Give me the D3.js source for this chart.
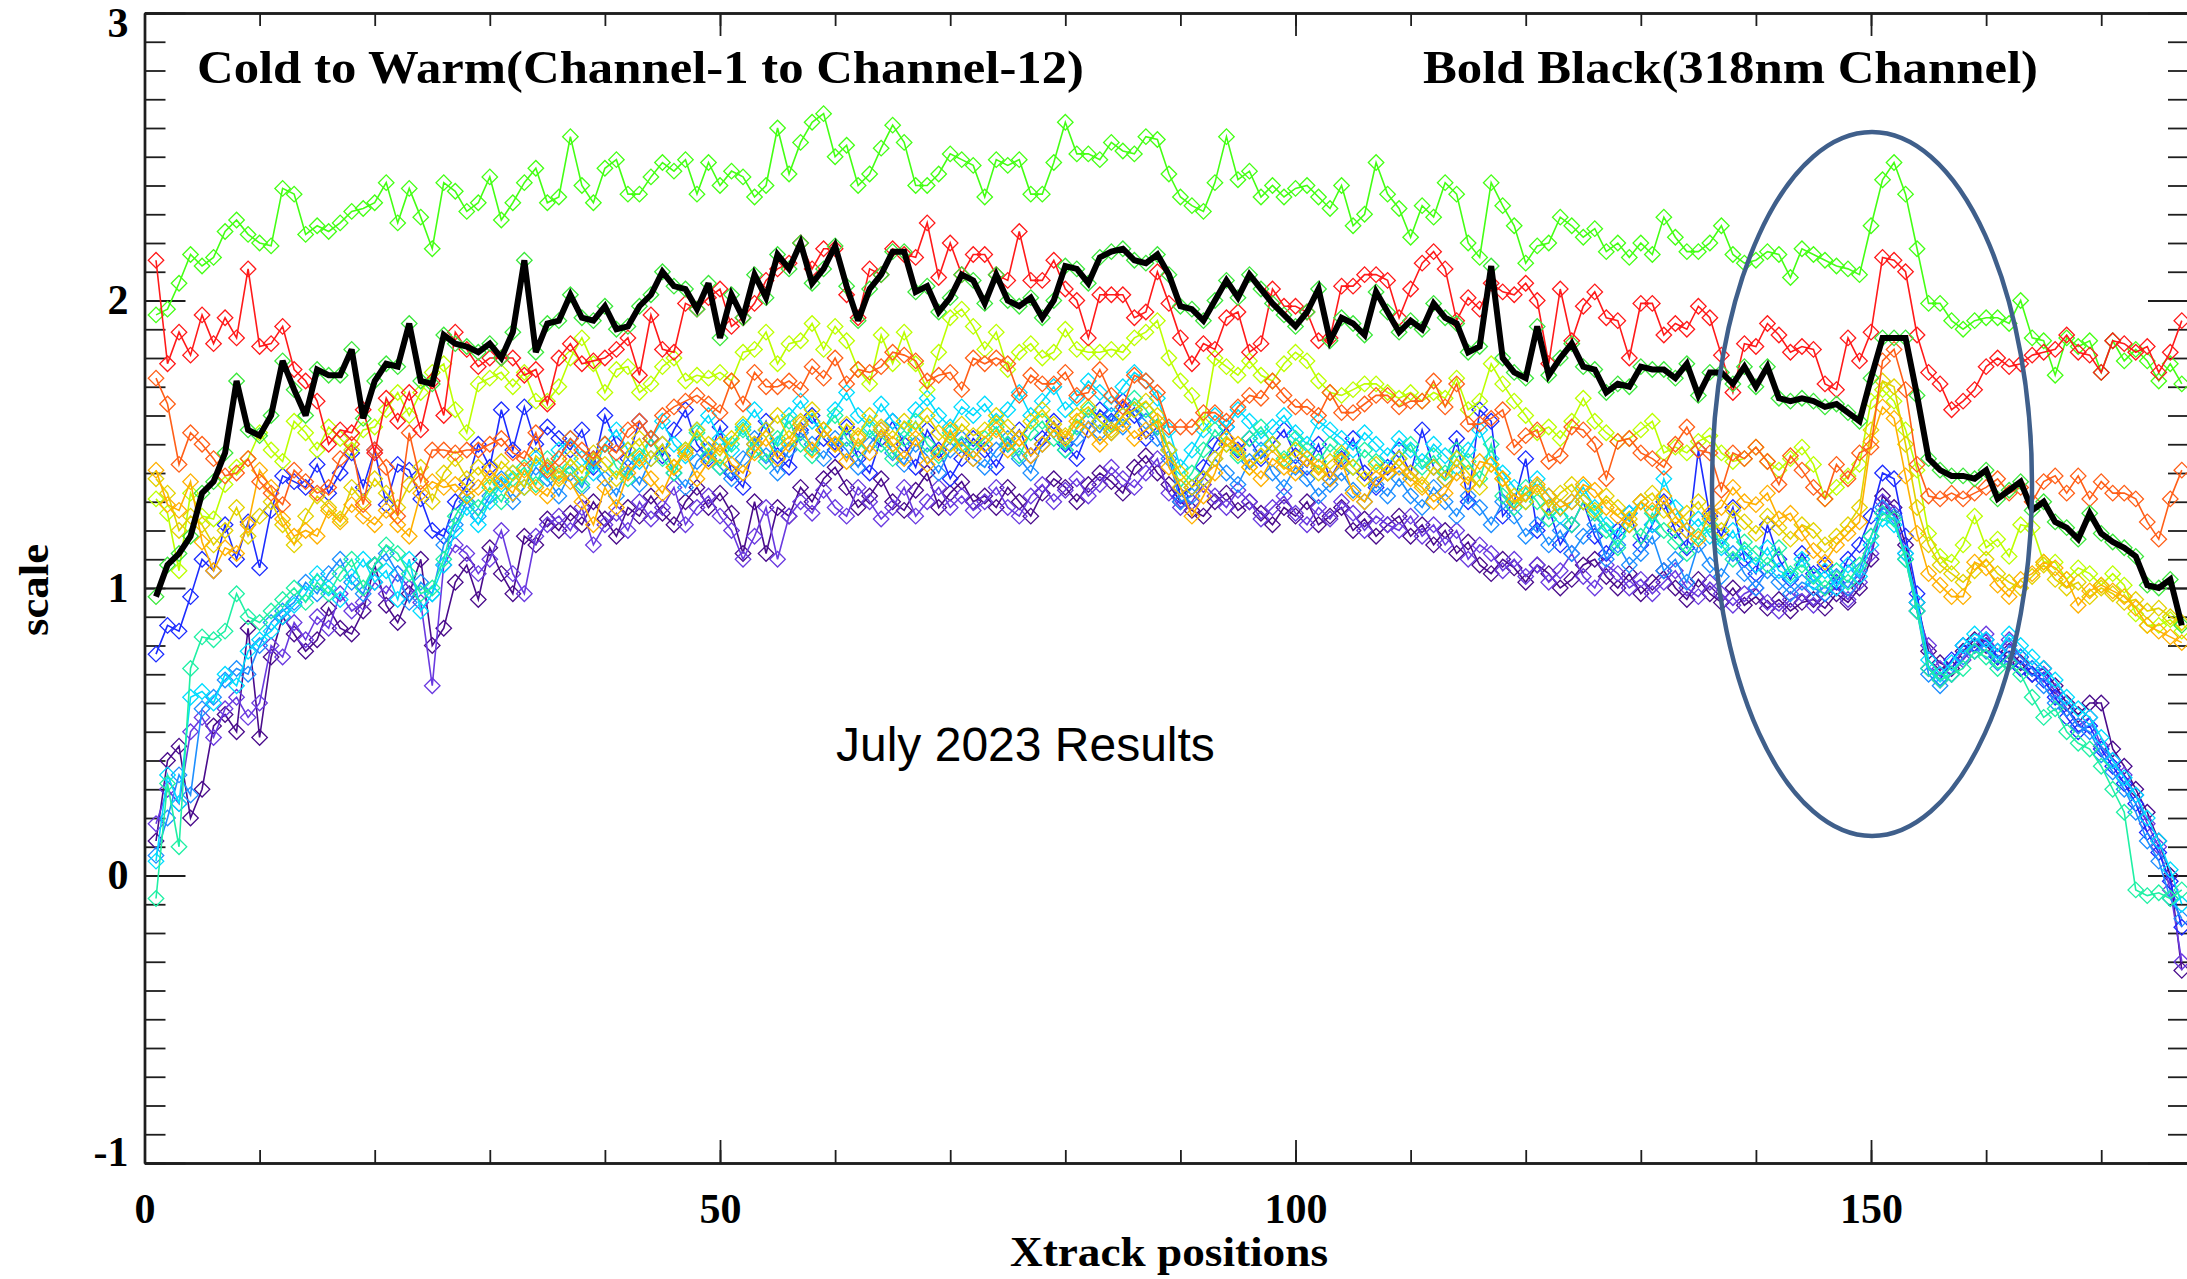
<!DOCTYPE html>
<html>
<head>
<meta charset="utf-8">
<script src="https://cdn.jsdelivr.net/npm/d3@7"></script>
<style>
  html, body { margin: 0; padding: 0; background: #ffffff; }
  svg { display: block; }
</style>
</head>
<body>
<svg id="chart" width="2187" height="1279"></svg>
<script>
// Cross-track positions 1..177
const xtrack = d3.range(1, 178);

// Scale factor per channel, cold (channel 1) to warm (channel 12)
const ch01 = [
  0.12,0.40,0.45,0.20,0.30,0.52,0.56,0.50,0.86,0.48,
  0.76,0.90,0.84,0.78,0.82,0.93,0.86,0.84,0.92,1.08,
  0.94,0.88,0.98,1.10,0.80,0.86,1.02,1.08,0.96,1.14,
  1.05,0.98,1.18,1.15,1.24,1.20,1.26,1.22,1.30,1.24,
  1.18,1.28,1.25,1.32,1.26,1.22,1.30,1.35,1.28,1.33,
  1.26,1.12,1.30,1.12,1.28,1.25,1.35,1.30,1.38,1.42,
  1.35,1.28,1.32,1.38,1.30,1.27,1.34,1.40,1.28,1.33,
  1.37,1.30,1.32,1.28,1.35,1.30,1.25,1.33,1.38,1.35,
  1.30,1.36,1.40,1.37,1.33,1.42,1.46,1.40,1.36,1.30,
  1.27,1.25,1.30,1.33,1.27,1.30,1.26,1.22,1.28,1.25,
  1.30,1.22,1.25,1.28,1.20,1.24,1.18,1.22,1.25,1.18,
  1.22,1.15,1.20,1.12,1.16,1.08,1.05,1.10,1.07,1.02,
  1.08,1.05,1.00,1.03,1.08,1.10,1.04,1.00,1.05,0.98,
  1.02,1.06,1.00,0.96,1.03,0.98,0.95,1.00,0.94,0.97,
  0.93,0.96,0.92,0.95,0.96,0.93,0.98,0.95,1.00,1.10,
  1.32,1.28,1.15,0.95,0.78,0.74,0.72,0.78,0.82,0.80,
  0.76,0.78,0.74,0.70,0.72,0.66,0.60,0.56,0.60,0.60,
  0.44,0.38,0.30,0.22,0.12,0.00,-0.33
];
const ch02 = [
  0.18,0.30,0.25,0.50,0.55,0.48,0.58,0.62,0.55,0.60,
  0.80,0.76,0.88,0.82,0.90,0.86,0.98,0.92,0.95,1.02,
  0.98,1.05,1.00,0.95,0.66,1.08,1.15,1.12,1.05,1.10,
  1.20,1.05,0.98,1.18,1.22,1.25,1.20,1.28,1.15,1.22,
  1.26,1.20,1.30,1.24,1.28,1.35,1.22,1.28,1.32,1.25,
  1.20,1.10,1.18,1.28,1.10,1.25,1.30,1.26,1.34,1.28,
  1.25,1.35,1.30,1.24,1.28,1.35,1.25,1.30,1.35,1.28,
  1.32,1.27,1.30,1.35,1.28,1.25,1.32,1.36,1.30,1.34,
  1.38,1.32,1.36,1.42,1.38,1.35,1.40,1.45,1.33,1.28,
  1.30,1.36,1.32,1.28,1.34,1.30,1.24,1.28,1.32,1.26,
  1.22,1.28,1.24,1.30,1.26,1.20,1.25,1.22,1.20,1.25,
  1.18,1.22,1.15,1.20,1.10,1.15,1.12,1.06,1.10,1.04,
  1.08,1.02,1.06,1.12,1.04,1.00,1.08,1.05,1.00,1.03,
  0.98,1.02,1.06,1.00,0.97,1.02,0.98,0.94,0.98,1.00,
  0.95,0.92,0.96,0.98,0.94,0.98,1.00,0.96,1.02,1.12,
  1.30,1.26,1.12,0.92,0.80,0.72,0.70,0.75,0.80,0.84,
  0.78,0.82,0.76,0.72,0.70,0.64,0.58,0.52,0.55,0.45,
  0.40,0.35,0.28,0.18,0.10,-0.05,-0.30
];
const ch03 = [
  0.77,0.87,0.85,0.97,1.10,1.06,1.22,1.10,1.23,1.07,
  1.27,1.39,1.37,1.35,1.43,1.33,1.40,1.47,1.35,1.48,
  1.29,1.43,1.41,1.31,1.20,1.18,1.30,1.36,1.50,1.42,
  1.62,1.48,1.63,1.50,1.56,1.52,1.48,1.55,1.42,1.60,
  1.50,1.45,1.58,1.52,1.46,1.55,1.62,1.50,1.45,1.56,
  1.40,1.35,1.50,1.58,1.46,1.42,1.55,1.60,1.52,1.48,
  1.56,1.45,1.40,1.52,1.58,1.50,1.42,1.55,1.48,1.38,
  1.45,1.52,1.48,1.42,1.50,1.55,1.46,1.52,1.58,1.50,
  1.45,1.55,1.62,1.58,1.65,1.60,1.52,1.56,1.48,1.32,
  1.35,1.42,1.50,1.56,1.48,1.52,1.45,1.50,1.55,1.46,
  1.42,1.50,1.38,1.45,1.52,1.40,1.35,1.42,1.48,1.40,
  1.55,1.42,1.38,1.52,1.30,1.62,1.58,1.25,1.30,1.45,
  1.20,1.28,1.15,1.22,1.30,1.18,1.12,1.20,1.26,1.15,
  1.22,1.30,1.20,1.14,1.48,1.25,1.18,1.28,1.10,1.05,
  1.22,1.10,1.03,1.12,1.05,1.08,1.02,1.10,1.15,1.25,
  1.40,1.38,1.18,0.98,0.72,0.68,0.75,0.80,0.78,0.82,
  0.76,0.74,0.72,0.70,0.68,0.62,0.55,0.50,0.52,0.44,
  0.38,0.32,0.25,0.15,0.08,-0.02,-0.18
];
const ch04 = [
  0.07,0.20,0.35,0.28,0.58,0.62,0.68,0.72,0.70,0.80,
  0.88,0.92,0.95,1.02,0.98,1.05,1.10,1.02,0.98,1.08,
  1.12,1.05,0.95,1.02,0.98,1.15,1.22,1.30,1.25,1.32,
  1.38,1.30,1.35,1.42,1.38,1.32,1.40,1.35,1.44,1.38,
  1.32,1.42,1.36,1.45,1.50,1.40,1.35,1.44,1.48,1.42,
  1.38,1.45,1.52,1.46,1.40,1.48,1.54,1.50,1.45,1.52,
  1.48,1.42,1.50,1.55,1.47,1.43,1.50,1.46,1.40,1.48,
  1.52,1.45,1.42,1.48,1.52,1.45,1.40,1.50,1.55,1.48,
  1.52,1.58,1.54,1.60,1.56,1.62,1.58,1.52,1.45,1.30,
  1.32,1.38,1.45,1.40,1.36,1.44,1.48,1.40,1.35,1.42,
  1.38,1.32,1.36,1.40,1.34,1.30,1.36,1.32,1.38,1.32,
  1.28,1.35,1.30,1.25,1.32,1.28,1.22,1.30,1.25,1.18,
  1.22,1.15,1.20,1.12,1.18,1.22,1.10,1.15,1.08,1.12,
  1.18,1.06,1.10,1.02,1.15,1.08,1.04,1.12,1.05,1.00,
  1.06,1.02,0.98,1.02,1.00,0.98,1.04,1.00,1.06,1.18,
  1.28,1.25,1.10,0.92,0.70,0.66,0.70,0.76,0.80,0.78,
  0.74,0.80,0.76,0.72,0.66,0.60,0.58,0.52,0.50,0.42,
  0.36,0.30,0.22,0.12,0.05,-0.08,-0.15
];
const ch05 = [
  0.05,0.35,0.25,0.62,0.64,0.60,0.70,0.66,0.78,0.82,
  0.85,0.90,0.94,0.98,1.05,1.00,0.96,1.04,1.10,1.02,
  1.06,0.96,1.10,0.92,0.98,1.08,1.20,1.28,1.22,1.30,
  1.36,1.40,1.35,1.45,1.40,1.48,1.52,1.45,1.40,1.50,
  1.55,1.48,1.44,1.52,1.58,1.50,1.46,1.55,1.60,1.52,
  1.48,1.56,1.62,1.55,1.50,1.60,1.65,1.58,1.55,1.62,
  1.68,1.60,1.56,1.64,1.58,1.55,1.62,1.66,1.60,1.56,
  1.63,1.60,1.64,1.58,1.62,1.68,1.60,1.65,1.70,1.62,
  1.66,1.72,1.68,1.64,1.70,1.75,1.72,1.66,1.55,1.42,
  1.48,1.55,1.60,1.56,1.62,1.58,1.52,1.56,1.60,1.54,
  1.50,1.58,1.55,1.52,1.48,1.54,1.50,1.46,1.52,1.48,
  1.44,1.50,1.46,1.42,1.48,1.55,1.45,1.40,1.35,1.30,
  1.38,1.32,1.25,1.30,1.35,1.28,1.22,1.18,1.26,1.30,
  1.22,1.38,1.28,1.20,1.24,1.18,1.14,1.20,1.12,1.08,
  1.14,1.06,1.04,1.10,1.02,1.06,1.00,1.08,1.04,1.15,
  1.24,1.22,1.12,0.95,0.75,0.70,0.74,0.80,0.84,0.82,
  0.78,0.84,0.80,0.76,0.72,0.68,0.62,0.58,0.55,0.48,
  0.40,0.34,0.28,0.20,0.12,0.02,-0.10
];
const ch06 = [
  -0.08,0.32,0.10,0.72,0.83,0.82,0.85,0.98,0.90,0.88,
  0.92,0.96,1.00,0.95,1.02,0.98,1.05,1.10,1.00,1.08,
  1.15,1.12,1.05,0.98,1.00,1.10,1.25,1.32,1.28,1.35,
  1.30,1.38,1.42,1.36,1.45,1.40,1.42,1.36,1.45,1.50,
  1.42,1.38,1.46,1.52,1.45,1.40,1.48,1.54,1.46,1.42,
  1.50,1.55,1.48,1.44,1.52,1.58,1.50,1.46,1.55,1.60,
  1.52,1.48,1.55,1.50,1.45,1.52,1.58,1.50,1.46,1.54,
  1.50,1.48,1.52,1.56,1.50,1.46,1.54,1.58,1.52,1.48,
  1.56,1.62,1.58,1.54,1.60,1.66,1.62,1.56,1.48,1.35,
  1.40,1.48,1.55,1.50,1.46,1.52,1.56,1.50,1.45,1.52,
  1.48,1.44,1.50,1.46,1.42,1.48,1.44,1.40,1.45,1.50,
  1.42,1.46,1.40,1.48,1.44,1.38,1.50,1.32,1.28,1.35,
  1.30,1.24,1.28,1.22,1.30,1.26,1.20,1.14,1.22,1.18,
  1.26,1.20,1.16,1.12,1.18,1.22,1.15,1.10,1.16,1.12,
  1.08,1.14,1.05,1.08,1.04,1.00,1.06,1.02,1.08,1.18,
  1.26,1.24,1.10,0.92,0.72,0.68,0.70,0.72,0.78,0.76,
  0.72,0.74,0.70,0.62,0.55,0.58,0.50,0.46,0.44,0.38,
  0.30,0.22,-0.05,-0.07,-0.06,-0.08,-0.05
];
const ch07 = [
  1.95,1.97,2.06,2.16,2.12,2.15,2.24,2.28,2.23,2.20,
  2.19,2.39,2.37,2.23,2.26,2.24,2.27,2.31,2.32,2.34,
  2.41,2.27,2.39,2.29,2.18,2.41,2.38,2.31,2.34,2.43,
  2.28,2.34,2.41,2.46,2.34,2.36,2.57,2.40,2.34,2.46,
  2.49,2.37,2.37,2.43,2.48,2.45,2.49,2.37,2.48,2.40,
  2.45,2.43,2.36,2.40,2.60,2.44,2.55,2.62,2.65,2.50,
  2.54,2.40,2.44,2.53,2.61,2.55,2.40,2.40,2.44,2.51,
  2.49,2.47,2.36,2.49,2.47,2.49,2.37,2.37,2.48,2.62,
  2.51,2.51,2.49,2.55,2.52,2.51,2.57,2.56,2.44,2.36,
  2.33,2.31,2.41,2.57,2.42,2.45,2.36,2.40,2.36,2.39,
  2.40,2.36,2.32,2.40,2.26,2.30,2.48,2.37,2.32,2.22,
  2.33,2.29,2.41,2.37,2.20,2.15,2.41,2.33,2.26,2.13,
  2.19,2.20,2.29,2.26,2.22,2.25,2.17,2.20,2.15,2.20,
  2.16,2.29,2.22,2.17,2.17,2.20,2.26,2.16,2.13,2.14,
  2.17,2.16,2.08,2.18,2.16,2.14,2.12,2.11,2.09,2.26,
  2.42,2.48,2.37,2.18,1.99,1.99,1.93,1.90,1.93,1.94,
  1.94,1.92,2.00,1.87,1.86,1.74,1.87,1.84,1.86,1.75,
  1.86,1.79,1.83,1.79,1.72,1.78,1.71
];
const ch08 = [
  1.31,1.26,1.06,1.33,1.25,1.24,1.36,1.42,1.45,1.54,
  1.48,1.44,1.58,1.54,1.48,1.56,1.52,1.48,1.55,1.56,
  1.62,1.68,1.60,1.68,1.75,1.78,1.62,1.54,1.71,1.73,
  1.75,1.70,1.75,1.65,1.65,1.70,1.80,1.87,1.78,1.68,
  1.76,1.77,1.68,1.71,1.77,1.80,1.72,1.74,1.73,1.75,
  1.72,1.82,1.83,1.89,1.78,1.85,1.86,1.92,1.83,1.91,
  1.86,1.76,1.71,1.88,1.78,1.89,1.78,1.69,1.82,1.94,
  1.97,1.91,1.83,1.89,1.76,1.82,1.85,1.80,1.82,1.90,
  1.83,1.82,1.82,1.83,1.82,1.87,1.89,1.93,1.80,1.72,
  1.67,1.57,1.80,1.77,1.74,1.79,1.74,1.72,1.78,1.82,
  1.79,1.72,1.68,1.67,1.69,1.71,1.71,1.68,1.66,1.68,
  1.65,1.68,1.66,1.73,1.62,1.65,1.78,1.71,1.65,1.60,
  1.54,1.56,1.52,1.58,1.66,1.58,1.54,1.51,1.52,1.55,
  1.58,1.47,1.49,1.47,1.51,1.53,1.47,1.44,1.45,1.49,
  1.44,1.41,1.45,1.49,1.43,1.31,1.35,1.39,1.43,1.65,
  1.69,1.65,1.55,1.41,1.19,1.11,1.09,1.15,1.25,1.14,
  1.17,1.11,1.22,1.21,1.09,1.09,1.03,1.07,1.05,1.01,
  1.05,1.01,0.91,0.87,0.87,0.89,0.85
];
const ch09 = [
  1.38,1.33,1.20,1.25,1.22,1.15,1.20,1.28,1.18,1.25,
  1.30,1.22,1.15,1.25,1.32,1.28,1.24,1.35,1.30,1.38,
  1.33,1.28,1.36,1.42,1.30,1.40,1.45,1.38,1.42,1.36,
  1.44,1.40,1.35,1.46,1.42,1.38,1.45,1.40,1.47,1.43,
  1.38,1.48,1.52,1.45,1.50,1.42,1.48,1.55,1.50,1.46,
  1.52,1.57,1.50,1.55,1.60,1.52,1.58,1.62,1.55,1.50,
  1.57,1.53,1.60,1.56,1.52,1.58,1.55,1.60,1.54,1.50,
  1.57,1.53,1.55,1.60,1.56,1.52,1.58,1.62,1.57,1.53,
  1.60,1.63,1.58,1.55,1.60,1.62,1.65,1.60,1.48,1.40,
  1.35,1.38,1.45,1.50,1.47,1.42,1.46,1.50,1.44,1.48,
  1.45,1.40,1.44,1.47,1.42,1.38,1.43,1.40,1.45,1.40,
  1.36,1.42,1.38,1.45,1.40,1.35,1.43,1.38,1.32,1.30,
  1.35,1.28,1.33,1.36,1.30,1.27,1.32,1.28,1.24,1.30,
  1.33,1.27,1.22,1.26,1.30,1.24,1.20,1.27,1.23,1.19,
  1.25,1.21,1.17,1.22,1.20,1.15,1.18,1.22,1.28,1.55,
  1.72,1.70,1.50,1.28,1.15,1.08,1.05,1.02,1.06,1.10,
  1.05,1.02,1.00,1.04,1.08,1.03,1.00,1.02,0.97,1.00,
  0.98,0.95,0.96,0.92,0.93,0.90,0.88
];
const ch10 = [
  1.41,1.29,1.27,1.37,1.16,1.06,1.14,1.12,1.22,1.41,
  1.35,1.24,1.18,1.20,1.18,1.27,1.23,1.29,1.25,1.22,
  1.27,1.22,1.18,1.33,1.37,1.35,1.36,1.32,1.35,1.41,
  1.37,1.33,1.41,1.35,1.32,1.39,1.37,1.30,1.22,1.35,
  1.28,1.40,1.45,1.38,1.33,1.42,1.47,1.38,1.44,1.50,
  1.43,1.40,1.47,1.52,1.45,1.50,1.57,1.48,1.55,1.50,
  1.44,1.52,1.47,1.55,1.50,1.45,1.52,1.43,1.47,1.55,
  1.48,1.45,1.50,1.55,1.48,1.52,1.46,1.50,1.55,1.52,
  1.58,1.55,1.50,1.54,1.57,1.52,1.55,1.58,1.42,1.35,
  1.25,1.32,1.40,1.52,1.50,1.42,1.38,1.45,1.42,1.40,
  1.45,1.42,1.38,1.44,1.33,1.30,1.38,1.40,1.42,1.38,
  1.35,1.30,1.33,1.40,1.36,1.44,1.43,1.38,1.30,1.33,
  1.36,1.32,1.28,1.30,1.36,1.34,1.28,1.25,1.22,1.30,
  1.27,1.32,1.25,1.20,1.17,1.26,1.28,1.35,1.30,1.29,
  1.33,1.24,1.26,1.19,1.13,1.09,1.15,1.19,1.23,1.51,
  1.63,1.59,1.39,1.19,1.05,1.01,0.97,0.97,1.09,1.07,
  1.01,0.97,1.03,1.05,1.09,1.07,1.03,0.94,0.99,1.01,
  0.99,0.97,0.93,0.87,0.85,0.83,0.81
];
const ch11 = [
  1.73,1.64,1.43,1.54,1.50,1.45,1.39,1.40,1.45,1.37,
  1.33,1.29,1.41,1.37,1.33,1.35,1.45,1.50,1.29,1.48,
  1.42,1.25,1.54,1.37,1.48,1.48,1.47,1.48,1.48,1.50,
  1.52,1.47,1.45,1.54,1.41,1.45,1.52,1.48,1.45,1.50,
  1.47,1.55,1.58,1.52,1.60,1.63,1.65,1.67,1.64,1.61,
  1.72,1.64,1.75,1.70,1.70,1.72,1.69,1.77,1.73,1.80,
  1.71,1.76,1.75,1.77,1.82,1.81,1.79,1.72,1.74,1.75,
  1.69,1.80,1.78,1.80,1.78,1.67,1.74,1.71,1.71,1.75,
  1.67,1.68,1.76,1.67,1.63,1.74,1.72,1.68,1.56,1.56,
  1.56,1.61,1.61,1.58,1.63,1.67,1.66,1.72,1.67,1.63,
  1.63,1.60,1.68,1.61,1.61,1.64,1.67,1.67,1.63,1.65,
  1.65,1.72,1.63,1.71,1.57,1.57,1.59,1.62,1.49,1.53,
  1.55,1.44,1.46,1.56,1.55,1.50,1.38,1.51,1.52,1.47,
  1.45,1.42,1.50,1.56,1.48,1.47,1.34,1.47,1.45,1.49,
  1.44,1.36,1.46,1.41,1.35,1.31,1.43,1.38,1.47,1.49,
  1.79,1.83,1.69,1.43,1.32,1.31,1.33,1.31,1.33,1.35,
  1.38,1.33,1.35,1.30,1.37,1.39,1.33,1.39,1.31,1.37,
  1.33,1.33,1.31,1.23,1.17,1.31,1.41
];
const ch12 = [
  2.14,1.78,1.89,1.81,1.95,1.85,1.94,1.87,2.11,1.84,
  1.85,1.91,1.76,1.72,1.65,1.50,1.55,1.54,1.62,1.47,
  1.66,1.58,1.68,1.55,1.72,1.60,1.89,1.83,1.77,1.80,
  1.80,1.80,1.74,1.76,1.64,1.80,1.85,1.78,1.79,1.80,
  1.83,1.87,1.74,1.95,1.83,1.82,1.99,1.97,2.01,2.04,
  1.91,1.94,1.99,2.07,2.11,2.13,2.20,2.11,2.18,2.18,
  2.02,1.94,2.11,2.09,2.18,2.16,2.15,2.27,2.08,2.20,
  2.09,2.16,2.16,2.09,2.07,2.24,2.07,2.07,2.14,2.04,
  2.00,1.87,2.02,2.02,2.02,1.94,1.96,2.10,1.99,1.87,
  1.78,1.85,1.83,1.94,1.96,1.82,1.85,2.04,1.98,1.98,
  1.96,1.86,1.87,2.05,2.05,2.09,2.09,2.07,1.94,2.04,
  2.13,2.17,2.11,1.93,2.01,1.97,2.06,2.03,2.02,2.06,
  2.00,1.78,2.04,1.86,1.98,2.03,1.94,1.93,1.80,1.99,
  1.99,1.88,1.92,1.90,1.98,1.94,1.81,1.68,1.85,1.84,
  1.92,1.88,1.82,1.84,1.83,1.71,1.69,1.87,1.79,1.89,
  2.15,2.14,2.10,1.88,1.75,1.71,1.62,1.65,1.69,1.77,
  1.80,1.77,1.78,1.81,1.82,1.83,1.88,1.82,1.81,1.75,
  1.86,1.85,1.82,1.84,1.75,1.82,1.93
];
// 318 nm channel, drawn bold black
const ch318 = [
  0.97,1.08,1.12,1.18,1.33,1.37,1.47,1.72,1.55,1.53,
  1.60,1.79,1.69,1.60,1.76,1.74,1.74,1.83,1.59,1.72,
  1.78,1.77,1.92,1.72,1.71,1.88,1.85,1.84,1.82,1.85,
  1.80,1.89,2.14,1.82,1.92,1.93,2.02,1.94,1.93,1.98,
  1.90,1.91,1.98,2.02,2.10,2.05,2.04,1.97,2.06,1.87,
  2.02,1.94,2.09,2.01,2.16,2.11,2.20,2.06,2.11,2.19,
  2.05,1.93,2.04,2.09,2.17,2.17,2.03,2.05,1.96,2.01,
  2.09,2.07,1.99,2.09,2.00,1.98,2.01,1.94,2.00,2.12,
  2.11,2.06,2.15,2.17,2.18,2.14,2.13,2.16,2.09,1.98,
  1.97,1.93,2.00,2.07,2.01,2.09,2.04,1.99,1.95,1.91,
  1.96,2.04,1.86,1.94,1.92,1.88,2.03,1.96,1.89,1.93,
  1.90,1.99,1.94,1.92,1.82,1.84,2.12,1.80,1.75,1.73,
  1.91,1.74,1.80,1.85,1.77,1.76,1.68,1.71,1.70,1.77,
  1.76,1.76,1.73,1.78,1.67,1.75,1.75,1.71,1.77,1.70,
  1.77,1.66,1.65,1.66,1.65,1.63,1.64,1.61,1.58,1.73,
  1.87,1.87,1.87,1.67,1.45,1.41,1.39,1.39,1.38,1.41,
  1.31,1.34,1.37,1.27,1.30,1.23,1.21,1.17,1.26,1.19,
  1.16,1.14,1.11,1.01,1.00,1.03,0.87
];

// Rainbow colour table, channel 1 (cold) .. channel 12 (warm)
const channelColors = [
  "#4a0c8c", "#6a3ae0", "#1c2cff", "#1e8fff", "#00dcff", "#1ff0a4",
  "#44ff14", "#bcff00", "#e2d200", "#ffb000", "#ff5f18", "#ff1a1a"
];
const channels = [ch01, ch02, ch03, ch04, ch05, ch06, ch07, ch08, ch09, ch10, ch11, ch12];

// Axis ticks and labels
const xMinorTicks = [0, 10, 20, 30, 40, 50, 60, 70, 80, 90, 100, 110, 120, 130, 140, 150, 160, 170];
const xMajorTicks = [0, 50, 100, 150];
const yMajorTicks = [-1, 0, 1, 2, 3];
const yMinorTicks = d3.range(-10, 31).map(k => k / 10);

const titleLeft = "Cold to Warm(Channel-1 to Channel-12)";
const titleRight = "Bold Black(318nm Channel)";
const xTitle = "Xtrack positions";
const yTitle = "scale";
const note = "July 2023 Results";

channels.concat([ch318]).forEach((s, i) => {
  if (s.length !== xtrack.length) throw new Error("series " + i + " has " + s.length + " values");
});

const svg = d3.select("#chart");
const W = 2187, H = 1279;
svg.append("rect").attr("width", W).attr("height", H).attr("fill", "#ffffff");

const x = d3.scaleLinear().domain([0, 177.8]).range([144.5, 2191]);
const y = d3.scaleLinear().domain([-1, 3]).range([1163, 13]);

const serif = "'Liberation Serif', 'DejaVu Serif', serif";
const sans = "'Liberation Sans', Arial, sans-serif";
const plainInt = d => String(d);   // ASCII hyphen for negatives

// ---- axes ----
function styleAxis(g) {
  g.selectAll(".domain").attr("stroke", "#1e1e1e").attr("stroke-width", 2.4);
  g.selectAll(".tick line").attr("stroke", "#1e1e1e").attr("stroke-width", 1.8);
}
const axisFont = g => g.attr("font-family", serif).attr("font-size", 42).attr("font-weight", "bold")
  .selectAll("text").attr("fill", "#000");

// bottom
const gB = svg.append("g").attr("transform", `translate(0,${y(-1)})`);
gB.call(d3.axisBottom(x).tickValues(xMinorTicks).tickSize(-13).tickSizeOuter(0).tickFormat(""));
const gB2 = svg.append("g").attr("transform", `translate(0,${y(-1)})`);
gB2.call(d3.axisBottom(x).tickValues(xMajorTicks).tickSize(-23).tickSizeOuter(0).tickPadding(30).tickFormat(plainInt));
gB2.call(axisFont);
styleAxis(gB); styleAxis(gB2);

// top
const gT = svg.append("g").attr("transform", `translate(0,${y(3)})`);
gT.call(d3.axisTop(x).tickValues(xMinorTicks).tickSize(-13).tickSizeOuter(0).tickFormat(""));
const gT2 = svg.append("g").attr("transform", `translate(0,${y(3)})`);
gT2.call(d3.axisTop(x).tickValues(xMajorTicks).tickSize(-23).tickSizeOuter(0).tickFormat(""));
styleAxis(gT); styleAxis(gT2);

// left
const gL = svg.append("g").attr("transform", `translate(${x(0)},0)`);
gL.call(d3.axisLeft(y).tickValues(yMinorTicks).tickSize(-21).tickSizeOuter(0).tickFormat(""));
const gL2 = svg.append("g").attr("transform", `translate(${x(0)},0)`);
gL2.call(d3.axisLeft(y).tickValues(yMajorTicks).tickSize(-41).tickSizeOuter(0).tickPadding(16).tickFormat(plainInt));
gL2.call(axisFont);
// end labels sit just inside the frame
gL2.selectAll(".tick text").attr("dy", d => d === 3 ? "0.55em" : d === -1 ? "0.06em" : "0.32em");
styleAxis(gL); styleAxis(gL2);

// right
const gR = svg.append("g").attr("transform", `translate(${x(177.8) - 2},0)`);
gR.call(d3.axisRight(y).tickValues(yMinorTicks).tickSize(-21).tickSizeOuter(0).tickFormat(""));
const gR2 = svg.append("g").attr("transform", `translate(${x(177.8) - 2},0)`);
gR2.call(d3.axisRight(y).tickValues(yMajorTicks).tickSize(-41).tickSizeOuter(0).tickFormat(""));
styleAxis(gR); styleAxis(gR2);

// ---- series ----
const line = d3.line()
  .x((d, i) => x(xtrack[i]))
  .y(d => y(d));
const diamond = d3.symbol().type(d3.symbolSquare).size(120);

const plot = svg.append("g");

function drawMarkers(values, color) {
  plot.append("g")
    .selectAll("path")
    .data(values)
    .join("path")
    .attr("d", diamond)
    .attr("transform", (d, i) => `translate(${x(xtrack[i])},${y(d)}) rotate(45)`)
    .attr("fill", "none")
    .attr("stroke", color)
    .attr("stroke-width", 1.3);
}

channels.forEach((vals, c) => {
  const color = channelColors[c];
  plot.append("path")
    .datum(vals)
    .attr("d", line)
    .attr("fill", "none")
    .attr("stroke", color)
    .attr("stroke-width", 1.6)
    .attr("stroke-linejoin", "miter");
  drawMarkers(vals, color);
});

// 318 nm channel: green diamonds under a heavy black trace
drawMarkers(ch318, "#3be83b");
plot.append("path")
  .datum(ch318)
  .attr("d", line)
  .attr("fill", "none")
  .attr("stroke", "#000")
  .attr("stroke-width", 6)
  .attr("stroke-linejoin", "miter")
  .attr("stroke-miterlimit", 3);

// ---- annotations ----
svg.append("text")
  .attr("x", 197).attr("y", 83)
  .attr("font-family", serif).attr("font-weight", "bold").attr("font-size", 46)
  .attr("textLength", 887).attr("lengthAdjust", "spacingAndGlyphs")
  .text(titleLeft);

svg.append("text")
  .attr("x", 1423).attr("y", 83)
  .attr("font-family", serif).attr("font-weight", "bold").attr("font-size", 46)
  .attr("textLength", 615).attr("lengthAdjust", "spacingAndGlyphs")
  .text(titleRight);

svg.append("text")
  .attr("x", 1169).attr("y", 1266)
  .attr("text-anchor", "middle")
  .attr("font-family", serif).attr("font-weight", "bold").attr("font-size", 42)
  .attr("textLength", 318).attr("lengthAdjust", "spacingAndGlyphs")
  .text(xTitle);

svg.append("text")
  .attr("transform", "translate(48,590) rotate(-90)")
  .attr("text-anchor", "middle")
  .attr("font-family", serif).attr("font-weight", "bold").attr("font-size", 42)
  .attr("textLength", 92).attr("lengthAdjust", "spacingAndGlyphs")
  .text(yTitle);

svg.append("text")
  .attr("x", 836).attr("y", 761)
  .attr("font-family", sans).attr("font-size", 48)
  .attr("fill", "#000")
  .text(note);

// highlight around the 150 xtrack feature
svg.append("ellipse")
  .attr("cx", 1872).attr("cy", 484)
  .attr("rx", 160).attr("ry", 352)
  .attr("fill", "none")
  .attr("stroke", "#3f5f8b")
  .attr("stroke-width", 4.5);
</script>
</body>
</html>
